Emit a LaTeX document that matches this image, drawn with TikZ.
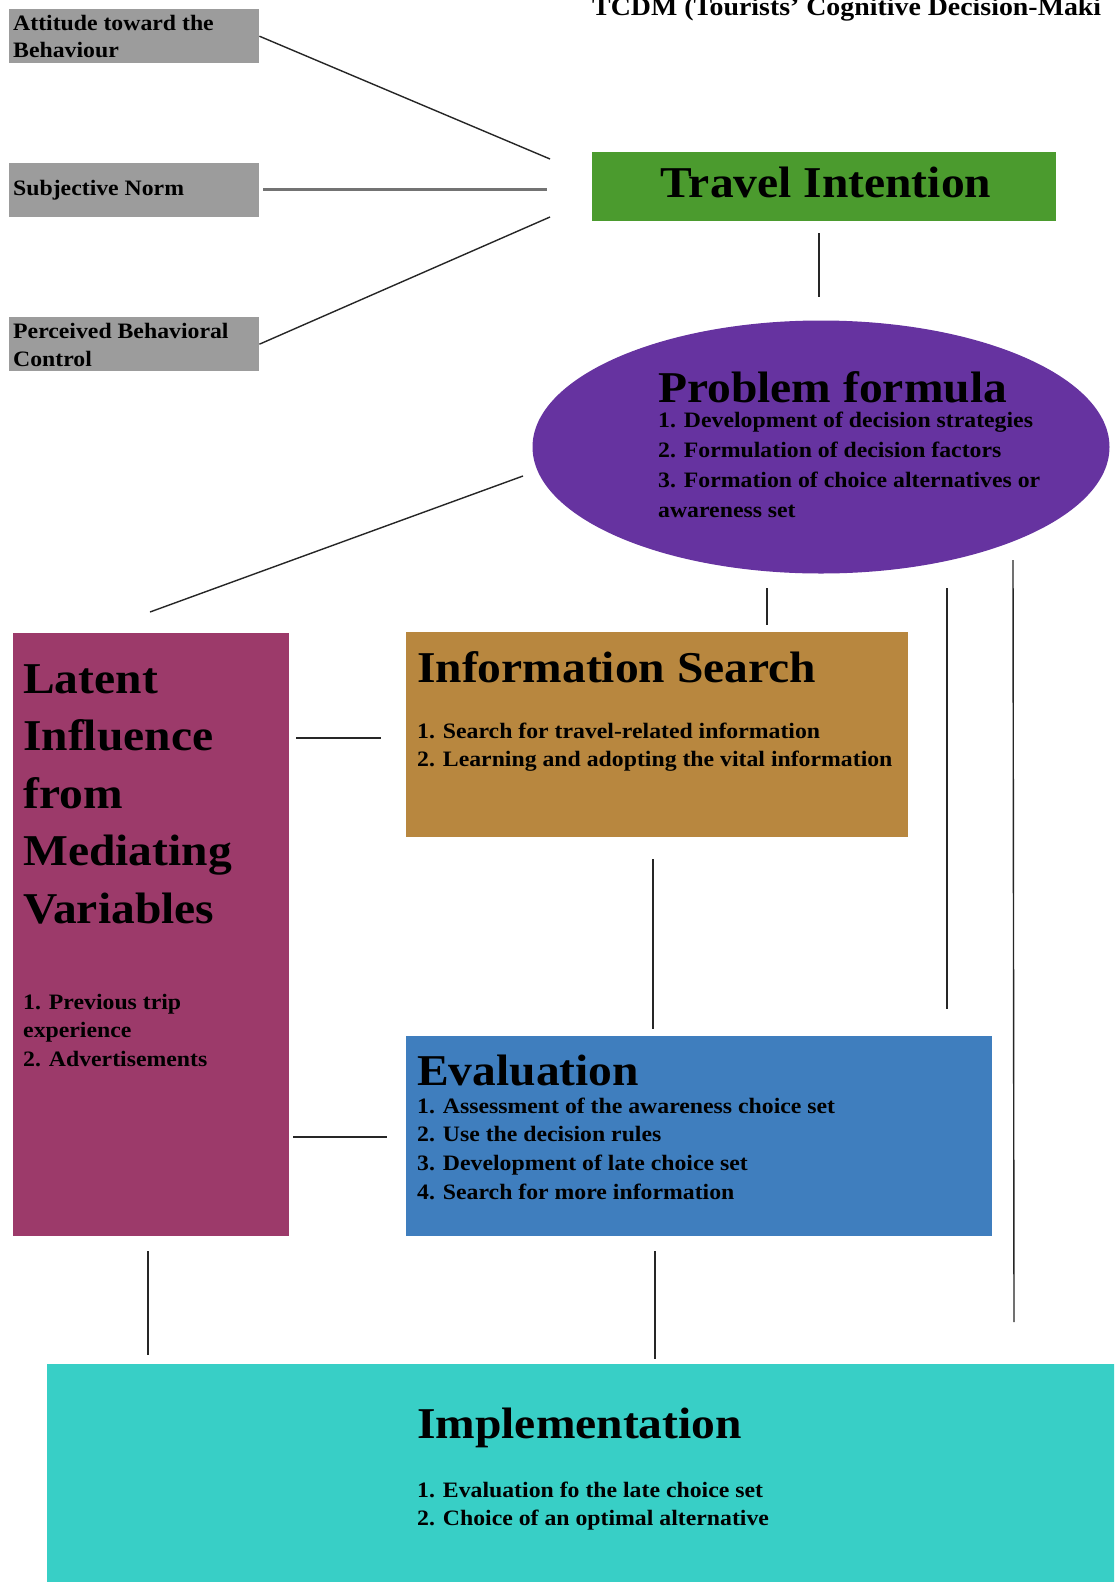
\documentclass[tikz,border=0pt]{standalone}
\usepackage{fontspec}
\setmainfont{Liberation Serif}[FakeStretch=1.08]
\usetikzlibrary{shapes.geometric}
\definecolor{boxgray}{HTML}{9C9C9C}
\definecolor{tigreen}{HTML}{4B9B2E}
\definecolor{pfpurple}{HTML}{6633A0}
\definecolor{latmag}{HTML}{9C3A6A}
\definecolor{isbrown}{HTML}{B8873F}
\definecolor{evblue}{HTML}{3F7EBE}
\definecolor{imteal}{HTML}{38CFC6}
\newcommand\mlines[1]{\begin{tabular}[t]{@{}l@{}}#1\end{tabular}}
\begin{document}
\begin{tikzpicture}[x=1pt,y=-1pt,
  box/.style={draw=none,inner sep=0pt,anchor=north west},
  txt/.style={anchor=base west,inner sep=0pt,text=black,font=\fontsize{22}{28}\selectfont\bfseries},
  head/.style={anchor=base west,inner sep=0pt,text=black,font=\fontsize{44}{57.5}\selectfont\bfseries},
  link/.style={draw=black!85,line width=1.4pt},
  thicklink/.style={draw=black!55,line width=3pt}]
\useasboundingbox (0,0) rectangle (1114,1582);
\clip (0,0) rectangle (1114,1582);
\fill[white] (0,0) rectangle (1114,1582);

% title
\node[txt,font=\fontsize{25.8}{30}\selectfont\bfseries] (title) at (592,16) {TCDM (Tourists’ Cognitive Decision-Maki};

% grey boxes
\node[box,fill=boxgray,minimum width=250pt,minimum height=54pt] (att) at (9,9) {};
\node[box,fill=boxgray,minimum width=250pt,minimum height=54pt] (sub) at (9,163) {};
\node[box,fill=boxgray,minimum width=250pt,minimum height=54pt] (per) at (9,317) {};
\node[txt] (attT) at (13,30) {\mlines{Attitude toward the\\Behaviour}};
\node[txt] (subT) at (13,195) {Subjective Norm};
\node[txt] (perT) at (13,338) {\mlines{Perceived Behavioral\\Control}};

% travel intention
\node[box,fill=tigreen,minimum width=464pt,minimum height=69pt] (ti) at (592,152) {};
\node[anchor=base,inner sep=0pt,font=\fontsize{44}{50}\selectfont\bfseries] (tiT) at (826,197) {Travel Intention};

% problem formula
\node[ellipse,fill=pfpurple,minimum width=577pt,minimum height=253pt,inner sep=0pt] (pf) at (821,447) {};
\node[head] (pfT) at (658,402) {Problem formula};
\node[txt,font=\fontsize{22}{30}\selectfont\bfseries] (pfL) at (658,427) {\mlines{1. Development of decision strategies\\2. Formulation of decision factors\\3. Formation of choice alternatives or\\awareness set}};

% latent influence
\node[box,fill=latmag,minimum width=276pt,minimum height=603pt] (lat) at (13,633) {};
\node[head] (latT) at (23,693) {\mlines{Latent\\Influence\\from\\Mediating\\Variables}};
\node[txt,font=\fontsize{22}{28.5}\selectfont\bfseries] (latL) at (23,1009) {\mlines{1. Previous trip\\experience\\2. Advertisements}};

% information search
\node[box,fill=isbrown,minimum width=502pt,minimum height=205pt] (is) at (406,632) {};
\node[head] (isT) at (417,682) {Information Search};
\node[txt] (isL) at (417,738) {\mlines{1. Search for travel-related information\\2. Learning and adopting the vital information}};

% evaluation
\node[box,fill=evblue,minimum width=586pt,minimum height=200pt] (ev) at (406,1036) {};
\node[head] (evT) at (417,1085) {Evaluation};
\node[txt,font=\fontsize{22}{28.7}\selectfont\bfseries] (evL) at (417,1113) {\mlines{1. Assessment of the awareness choice set\\2. Use the decision rules\\3. Development of late choice set\\4. Search for more information}};

% implementation
\node[box,fill=imteal,minimum width=1070pt,minimum height=220pt] (im) at (47,1364) {};
\node[head] (imT) at (417,1438) {Implementation};
\node[txt] (imL) at (417,1497) {\mlines{1. Evaluation fo the late choice set\\2. Choice of an optimal alternative}};

% connector end points
\coordinate (c1) at (550,159);
\coordinate (c2a) at (263,189);
\coordinate (c2) at (547,189);
\coordinate (c3) at (550,217);
\coordinate (c4a) at (819,233);
\coordinate (c4b) at (819,297);
\coordinate (c5a) at (523,476);
\coordinate (c5b) at (150,612);
\coordinate (c6a) at (767,588);
\coordinate (c6b) at (767,625);
\coordinate (c7a) at (947,588);
\coordinate (c7b) at (947,1009);
\coordinate (c8a) at (1013,560);
\coordinate (c8b) at (1014,1322);
\coordinate (c9a) at (296,738);
\coordinate (c9b) at (381,738);
\coordinate (c10a) at (653,859);
\coordinate (c10b) at (653,1029);
\coordinate (c11a) at (293,1137);
\coordinate (c11b) at (387,1137);
\coordinate (c12a) at (148,1251);
\coordinate (c12b) at (148,1355);
\coordinate (c13a) at (655,1251);
\coordinate (c13b) at (655,1359);

% connectors
\draw[link] (att.east) -- (c1);
\draw[thicklink] (c2a) -- (c2);
\draw[link] (per.east) -- (c3);
\draw[link] (c4a) -- (c4b);
\draw[link] (c5a) -- (c5b);
\draw[link] (c6a) -- (c6b);
\draw[link] (c7a) -- (c7b);
\draw[link] (c8a) -- (c8b);
\draw[link] (c9a) -- (c9b);
\draw[link] (c10a) -- (c10b);
\draw[link] (c11a) -- (c11b);
\draw[link] (c12a) -- (c12b);
\draw[link] (c13a) -- (c13b);
\end{tikzpicture}
\end{document}
